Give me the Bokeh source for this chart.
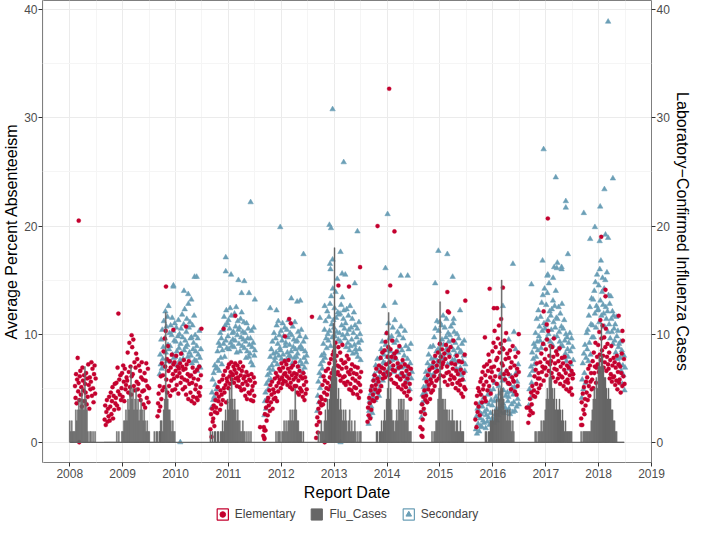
import numpy as np
from bokeh.plotting import figure
from bokeh.layouts import column
from bokeh.models import Range1d, LinearAxis, FixedTicker, Legend, LegendItem
from bokeh.embed import file_html
from bokeh.resources import INLINE

# ---------------- data ----------------
year_ticks = [2008, 2009, 2010, 2011, 2012, 2013, 2014, 2015, 2016, 2017, 2018, 2019]
y_ticks = [0, 10, 20, 30, 40]

# Elementary: school-season spans (decimal years) and daily-ish values
elem_spans = [(2008.10, 2008.49), (2008.66, 2009.50), (2009.66, 2010.48), (2010.66, 2011.50),
              (2011.66, 2012.48), (2012.66, 2013.51), (2013.63, 2014.45), (2014.63, 2015.48),
              (2015.67, 2016.49), (2016.67, 2017.52), (2017.67, 2018.49)]
e08 = [5.2, 4.1, 6.3, 3.6, 5.8, 7.8, 4.7, 5.5, 3.9, 6.1, 6.6, 4.4, 5.1, 3.3, 6.9, 5.7, 4.8, 6.2, 3.8, 5.4,
       4.6, 6.4, 3.5, 5.9, 4.2, 7.2, 5.3, 3.1, 6.0, 4.9, 5.6, 7.4, 4.3, 6.8, 5.0, 3.7, 6.3, 7.1, 4.5, 5.9]
e09 = [2.1, 3.4, 1.6, 2.8, 3.9, 1.9, 3.1, 2.4, 4.2, 2.0, 3.3, 4.6, 2.6, 3.8, 5.1, 2.2, 4.3, 3.0, 5.4, 3.6,
       4.1, 5.5, 3.4, 6.9, 4.7, 3.1, 5.8, 4.4, 6.2, 3.9, 5.0, 6.4, 4.2, 7.1, 5.6, 3.8, 6.8, 4.9, 5.3, 6.0,
       5.7, 8.3, 4.6, 6.5, 9.2, 5.1, 7.0, 4.4, 6.1, 8.8, 6.3, 9.5, 5.2, 7.4, 4.8, 6.9, 8.2, 5.6, 7.7, 4.9,
       5.4, 7.1, 4.3, 6.6, 3.9, 6.0, 7.4, 4.7, 5.8, 3.5, 4.8, 6.4, 3.2, 5.7, 7.3, 4.1, 5.2, 6.8, 3.7, 5.0]
e10 = [2.4, 3.6, 4.5, 2.9, 5.2, 3.3, 6.1, 4.0, 7.3, 4.8, 6.2, 8.4, 5.1, 9.6, 7.0, 10.3, 5.8, 7.7, 4.6, 8.9,
       6.6, 5.2, 7.5, 4.3, 6.9, 5.7, 8.1, 4.8, 6.3, 7.2, 5.9, 7.4, 4.9, 6.6, 8.0, 5.3, 6.1, 7.0, 4.5, 6.8,
       6.4, 7.3, 5.5, 8.2, 6.0, 7.0, 4.9, 6.7, 7.6, 5.8, 5.1, 6.8, 4.4, 7.2, 5.7, 6.3, 4.0, 7.5, 5.4, 6.1,
       4.6, 6.2, 3.8, 5.5, 6.9, 4.2, 5.9, 3.6, 6.5, 4.9, 5.3, 4.1, 6.7, 3.9, 5.8, 4.6, 7.0, 4.3, 5.1, 6.2]
e11 = [1.2, 2.6, 0.5, 3.1, 1.9, 2.2, 3.4, 1.5, 2.8, 3.9, 3.2, 4.5, 2.7, 5.1, 3.8, 4.2, 5.6, 3.0, 4.8, 3.5,
       4.4, 5.8, 3.9, 6.2, 5.0, 4.6, 6.6, 5.3, 3.7, 5.9, 5.6, 6.9, 5.0, 7.2, 6.1, 5.4, 6.5, 7.4, 5.8, 6.3,
       6.2, 7.0, 5.5, 6.7, 7.3, 5.9, 6.4, 5.2, 7.1, 6.0, 5.7, 6.8, 5.1, 7.4, 6.2, 4.8, 6.6, 5.4, 7.0, 5.9,
       4.9, 6.1, 4.3, 5.6, 6.5, 4.0, 5.3, 6.2, 4.6, 5.8, 4.5, 5.7, 3.9, 6.3, 4.8, 5.2, 3.8, 6.0, 4.3, 5.5]
e12 = [0.6, 1.4, 0.3, 2.6, 1.1, 3.2, 2.0, 3.8, 2.5, 4.1, 3.4, 4.8, 2.9, 5.3, 3.7, 4.4, 5.6, 3.1, 4.9, 4.0,
       4.6, 5.9, 4.1, 6.4, 5.2, 3.8, 6.1, 4.7, 5.5, 6.8, 5.8, 6.6, 5.0, 7.3, 6.0, 5.4, 6.9, 5.7, 6.3, 7.5,
       6.4, 5.6, 7.2, 6.1, 5.3, 6.8, 7.6, 5.9, 6.5, 5.1, 5.5, 6.9, 6.2, 4.9, 7.1, 5.8, 6.4, 5.2, 7.4, 6.0,
       5.2, 6.3, 4.6, 7.0, 5.7, 4.4, 6.6, 5.0, 6.1, 4.8, 4.7, 5.9, 4.2, 6.4, 5.3, 3.9, 6.0, 4.5, 5.6, 4.9]
e13 = [0.4, 1.6, 2.3, 0.9, 3.1, 1.9, 3.7, 2.7, 4.2, 3.4, 4.0, 5.3, 3.5, 6.1, 4.6, 5.7, 3.9, 6.6, 5.0, 4.4,
       5.5, 6.8, 4.9, 7.3, 6.0, 5.2, 7.7, 6.4, 5.8, 8.1, 6.7, 8.4, 5.9, 7.5, 9.2, 6.3, 8.0, 7.1, 6.5, 8.8,
       7.0, 6.2, 8.3, 5.7, 7.6, 6.8, 9.0, 6.0, 7.3, 5.5, 6.1, 7.4, 5.3, 6.9, 8.0, 5.6, 6.5, 7.7, 4.9, 6.3,
       5.4, 6.7, 4.8, 7.2, 5.9, 4.5, 6.4, 5.1, 7.0, 5.7, 5.0, 6.3, 4.4, 6.9, 5.5, 4.1, 6.0, 5.3, 4.7, 6.5]
e14 = [1.9, 3.2, 2.5, 4.1, 3.6, 2.2, 4.8, 3.0, 5.2, 3.9, 4.4, 5.7, 3.8, 6.2, 4.9, 5.3, 6.8, 4.1, 5.9, 4.6,
       5.6, 7.1, 4.8, 6.5, 7.8, 5.2, 6.9, 8.3, 5.9, 6.3, 6.8, 8.5, 6.0, 9.3, 7.2, 10.1, 6.5, 7.9, 8.8, 6.2,
       7.4, 6.3, 8.6, 5.8, 7.9, 9.4, 6.7, 7.1, 5.5, 8.2, 6.6, 7.8, 5.4, 8.4, 6.1, 7.3, 5.1, 6.9, 8.9, 5.9,
       5.8, 7.0, 4.9, 6.4, 7.6, 5.3, 6.1, 4.6, 7.2, 5.5, 5.1, 6.6, 4.3, 5.9, 7.0, 4.7, 6.3, 5.4, 4.0, 6.8]
e15 = [1.4, 2.8, 0.6, 3.5, 2.1, 4.2, 3.1, 4.8, 2.6, 3.9, 4.3, 5.6, 3.7, 6.2, 4.9, 5.3, 6.7, 4.0, 5.8, 4.6,
       5.5, 6.9, 4.8, 7.4, 6.1, 5.2, 8.0, 6.5, 5.7, 7.1, 6.6, 8.3, 5.9, 7.5, 9.1, 6.2, 7.9, 6.9, 8.6, 7.2,
       7.4, 6.1, 8.2, 5.6, 7.7, 9.0, 6.4, 7.0, 5.3, 8.5, 6.5, 7.9, 5.8, 8.8, 6.2, 7.3, 5.4, 6.8, 9.4, 6.0,
       5.9, 7.2, 5.0, 6.6, 8.0, 5.5, 6.3, 4.8, 7.5, 5.7, 5.3, 6.7, 4.5, 7.4, 5.8, 4.2, 6.4, 5.1, 8.1, 4.9]
e16 = [2.1, 3.6, 1.4, 4.3, 2.8, 5.0, 3.3, 4.7, 2.5, 5.6, 4.4, 5.9, 3.7, 6.5, 4.9, 5.3, 7.0, 4.1, 6.2, 3.8,
       5.6, 7.2, 4.8, 6.6, 8.1, 5.2, 7.5, 6.0, 4.5, 6.9, 6.5, 8.4, 5.7, 9.2, 7.0, 10.3, 6.1, 8.8, 7.6, 5.4,
       7.8, 9.6, 6.7, 10.8, 8.3, 6.0, 9.1, 11.4, 7.3, 8.7, 7.1, 8.6, 6.3, 9.4, 5.8, 7.7, 10.1, 6.6, 8.2, 5.5,
       6.3, 7.8, 5.4, 8.5, 6.9, 4.9, 7.4, 6.0, 8.9, 5.7, 5.6, 7.1, 4.7, 7.9, 6.2, 4.4, 6.8, 5.2, 8.3, 6.5]
e17 = [1.8, 3.2, 2.5, 4.0, 2.9, 4.6, 3.5, 5.2, 2.7, 4.3, 4.8, 6.1, 4.2, 6.7, 5.4, 7.3, 4.6, 5.9, 6.4, 5.0,
       5.9, 7.4, 5.3, 8.2, 6.5, 7.0, 9.1, 5.7, 6.8, 7.7, 6.9, 8.6, 6.2, 9.5, 7.4, 10.3, 6.6, 8.0, 7.2, 8.9,
       7.5, 6.4, 8.8, 6.0, 7.9, 9.6, 6.8, 7.3, 5.6, 8.4, 6.7, 8.1, 5.9, 7.5, 6.3, 8.7, 5.4, 7.0, 6.1, 7.8,
       6.0, 7.3, 5.2, 6.7, 7.9, 5.6, 6.4, 4.9, 7.1, 5.8, 5.5, 6.9, 4.7, 6.2, 7.4, 5.0, 6.6, 4.4, 5.9, 6.3]
e18 = [2.2, 3.7, 1.6, 4.5, 3.0, 5.1, 2.6, 4.0, 3.4, 5.6, 4.6, 6.0, 3.9, 6.8, 5.2, 4.3, 7.1, 5.6, 6.4, 4.9,
       5.8, 7.5, 5.0, 8.3, 6.4, 7.0, 9.2, 5.5, 6.9, 7.9, 7.2, 9.0, 6.5, 10.2, 8.1, 11.3, 7.6, 9.6, 8.5, 10.8,
       8.0, 6.9, 9.7, 7.4, 8.8, 10.5, 6.6, 7.9, 9.1, 7.2, 6.8, 8.3, 5.9, 7.6, 6.3, 8.9, 5.6, 7.1, 6.0, 7.8,
       6.1, 7.4, 5.3, 6.9, 5.7, 8.0, 4.9, 6.5, 7.2, 5.5, 5.8, 7.0, 4.6, 6.4, 8.2, 5.2, 9.4, 6.1, 7.7, 5.4]
elem_values = [e08, e09, e10, e11, e12, e13, e14, e15, e16, e17, e18]
elem_extra_x = [2008.17, 2008.18, 2008.92, 2009.17, 2009.82, 2009.96, 2010.20, 2010.49, 2010.91, 2011.13,
                2011.60, 2011.68, 2011.68, 2012.07, 2012.15, 2012.18, 2012.58, 2012.82, 2013.08, 2013.28,
                2013.49, 2013.82, 2014.04, 2014.06, 2014.14, 2014.67, 2014.67, 2015.14, 2015.15, 2015.17,
                2015.48, 2015.85, 2015.94, 2016.02, 2016.08, 2016.19, 2016.49, 2016.64, 2016.96, 2017.02,
                2017.04, 2017.67, 2018.05, 2018.13, 2018.13, 2018.38, 2018.45]
elem_extra_y = [20.5, 0.0, 11.9, 9.9, 14.4, 10.4, 10.7, 10.5, 10.5, 11.7,
                1.4, 1.1, 0.4, 9.8, 11.4, 11.0, 11.6, 0.0, 14.5, 14.4,
                16.2, 20.0, 32.7, 14.5, 19.5, 1.2, 0.5, 13.9, 12.1, 12.0,
                13.1, 9.7, 14.2, 12.4, 12.4, 14.3, 10.0, 3.2, 12.1, 10.9,
                20.7, 1.6, 19.0, 14.1, 13.5, 11.7, 10.3]

# Secondary
sec_spans = [(2009.70, 2010.48), (2010.68, 2011.50), (2011.68, 2012.48), (2012.68, 2013.51),
             (2013.65, 2014.47), (2014.65, 2015.48), (2015.68, 2016.49), (2016.68, 2017.52),
             (2017.68, 2018.50)]
s10 = [6.3, 8.1, 7.2, 9.5, 6.8, 10.4, 7.7, 8.8, 11.2, 7.0, 9.6, 12.1, 8.3, 10.7, 7.5, 11.6, 9.0, 12.6, 8.6, 10.1,
       8.9, 10.8, 7.4, 9.9, 11.5, 8.1, 10.3, 7.8, 9.4, 11.0, 7.9, 9.3, 10.6, 8.4, 7.1, 9.8, 11.3, 8.7, 10.0, 7.6,
       9.1, 10.5, 8.2, 11.8, 9.7, 7.7, 10.9, 8.5, 12.3, 9.4, 8.8, 10.2, 11.4, 9.0, 7.9, 12.8, 10.6, 8.3, 11.1, 9.6,
       8.0, 9.7, 7.3, 10.8, 8.6, 9.2, 11.7, 7.6, 9.9, 8.4, 7.5, 8.9, 6.6, 9.6, 8.1, 7.0, 10.3, 7.8, 6.9, 8.6]
s11 = [3.2, 4.6, 5.8, 3.9, 6.4, 4.2, 7.1, 5.3, 6.8, 4.9, 6.9, 8.4, 7.5, 9.2, 6.6, 8.9, 10.1, 7.8, 9.6, 7.2,
       8.5, 10.4, 9.1, 11.6, 7.9, 10.8, 9.4, 12.2, 8.7, 11.0, 9.8, 11.3, 8.6, 10.5, 12.4, 9.2, 11.7, 8.9, 10.1, 9.5,
       10.2, 8.8, 11.9, 9.4, 10.7, 12.5, 8.3, 9.9, 11.2, 10.4, 9.1, 10.6, 8.4, 11.4, 9.7, 12.0, 8.9, 10.2, 9.5, 11.1,
       8.7, 10.1, 9.3, 7.8, 11.0, 8.4, 9.6, 10.5, 7.9, 9.0, 8.2, 9.6, 7.4, 10.3, 8.8, 7.1, 9.2, 10.6, 8.0, 8.5]
s12 = [2.5, 3.8, 4.6, 3.1, 5.4, 4.0, 6.2, 4.9, 5.7, 6.8, 6.4, 7.9, 5.8, 8.6, 7.1, 9.3, 6.7, 8.2, 10.1, 7.5,
       7.8, 9.6, 8.3, 10.8, 7.2, 9.1, 11.2, 8.0, 9.9, 8.7, 8.5, 10.3, 7.7, 9.4, 11.0, 8.1, 9.8, 7.5, 10.6, 8.9,
       9.2, 7.6, 10.4, 8.3, 9.7, 11.3, 8.0, 9.0, 10.1, 7.9, 8.4, 9.9, 7.3, 10.7, 8.8, 9.5, 7.8, 11.1, 8.6, 9.3,
       7.9, 9.4, 8.2, 10.2, 7.0, 8.7, 9.8, 7.5, 8.9, 10.4, 7.2, 8.6, 6.5, 9.3, 7.8, 6.9, 8.4, 9.7, 7.4, 8.0]
s13 = [2.9, 4.3, 5.6, 3.7, 6.4, 5.0, 7.2, 6.1, 8.0, 6.8, 7.5, 9.1, 8.2, 10.4, 7.8, 11.2, 9.6, 8.7, 12.1, 10.0,
       9.4, 11.6, 10.3, 12.8, 8.9, 13.5, 10.9, 9.7, 14.2, 11.3, 10.6, 12.4, 9.8, 13.9, 11.5, 10.2, 15.1, 12.0, 9.5, 11.8,
       10.1, 11.9, 9.3, 12.7, 10.8, 13.4, 9.9, 11.4, 12.2, 10.5, 9.6, 11.0, 8.8, 12.3, 10.0, 9.2, 11.7, 10.4, 8.5, 12.6,
       8.9, 10.6, 9.5, 11.4, 8.2, 10.1, 12.0, 9.0, 10.8, 8.6, 8.3, 9.7, 10.5, 7.9, 9.2, 11.1, 8.6, 10.0, 7.6, 9.4]
s14 = [1.7, 2.9, 3.8, 2.4, 4.5, 3.3, 5.1, 2.7, 4.2, 5.8, 4.6, 6.3, 3.9, 7.1, 5.4, 4.8, 7.7, 5.9, 6.6, 4.3,
       6.0, 7.8, 5.2, 8.6, 6.9, 9.3, 5.7, 7.4, 8.1, 6.4, 7.3, 9.0, 6.2, 10.1, 7.9, 8.5, 11.0, 6.8, 9.6, 7.5,
       8.4, 6.9, 9.8, 7.6, 10.6, 8.1, 6.5, 9.2, 11.3, 7.8, 7.7, 9.4, 6.8, 10.2, 8.3, 7.2, 9.9, 8.8, 6.3, 10.7,
       6.9, 8.5, 7.4, 9.6, 6.1, 8.0, 10.3, 7.0, 8.9, 5.8, 6.2, 7.7, 5.5, 8.6, 6.8, 4.9, 7.3, 9.1, 5.9, 6.5]
s15 = [2.3, 3.6, 4.4, 2.9, 5.1, 3.8, 5.9, 4.6, 6.5, 5.2, 5.8, 7.3, 4.9, 8.1, 6.4, 7.0, 8.8, 5.5, 7.7, 6.1,
       7.2, 8.9, 6.3, 9.7, 7.8, 10.5, 6.9, 8.4, 11.2, 7.5, 8.6, 10.3, 7.4, 11.1, 9.2, 8.0, 10.8, 9.5, 7.7, 11.7,
       9.0, 7.8, 10.6, 8.3, 9.7, 11.4, 8.7, 7.2, 10.1, 9.3, 8.2, 9.9, 7.3, 10.7, 8.8, 9.4, 7.6, 11.0, 8.5, 10.2,
       7.6, 9.2, 8.1, 6.8, 10.0, 7.4, 8.7, 9.6, 6.5, 8.3, 6.9, 8.4, 6.2, 9.1, 7.5, 5.8, 8.0, 9.4, 6.6, 7.2]
s16 = [1.2, 2.4, 0.8, 3.1, 1.7, 2.9, 1.0, 3.6, 2.2, 1.5, 2.6, 1.4, 3.3, 2.0, 4.1, 1.8, 2.8, 3.7, 1.3, 2.5,
       3.0, 1.9, 4.4, 2.3, 3.5, 1.6, 4.8, 2.7, 3.9, 2.1, 3.4, 2.2, 4.9, 1.8, 3.8, 5.5, 2.6, 4.2, 3.1, 2.0,
       3.9, 2.5, 5.2, 3.0, 4.5, 6.3, 2.8, 4.0, 3.3, 5.7, 3.6, 4.8, 2.7, 5.9, 3.2, 4.3, 6.6, 2.9, 4.6, 3.8,
       4.2, 3.1, 5.4, 2.6, 4.7, 6.1, 3.5, 5.0, 2.8, 4.4, 3.7, 5.1, 2.9, 4.5, 6.4, 3.3, 5.6, 4.0, 7.2, 3.5]
s17 = [3.4, 4.9, 6.2, 4.1, 7.0, 5.5, 8.3, 6.6, 7.7, 9.1, 7.2, 8.8, 10.1, 7.9, 11.4, 9.3, 8.5, 12.2, 9.8, 10.7,
       9.4, 11.6, 8.7, 12.9, 10.3, 13.6, 9.1, 11.0, 14.2, 10.5, 10.8, 12.7, 9.6, 13.8, 11.3, 10.0, 14.7, 12.1, 9.3, 11.7,
       10.4, 12.3, 9.0, 13.1, 11.1, 9.7, 12.6, 10.6, 14.0, 11.5, 9.8, 11.4, 8.6, 12.5, 10.2, 9.3, 11.9, 8.9, 10.7, 12.8,
       8.9, 10.5, 7.8, 11.3, 9.4, 8.2, 10.0, 7.5, 9.7, 8.6, 7.9, 9.2, 6.8, 10.1, 8.4, 7.2, 9.6, 6.4, 8.8, 7.6]
s18 = [4.1, 5.8, 7.3, 4.9, 8.2, 6.4, 9.0, 5.5, 7.8, 10.1, 8.6, 10.4, 7.5, 11.7, 9.2, 12.5, 8.1, 10.9, 13.3, 9.7,
       10.8, 13.2, 9.7, 14.0, 11.9, 14.8, 10.6, 12.6, 15.5, 12.2, 12.3, 14.5, 11.1, 16.0, 13.1, 16.8, 11.7, 13.9, 15.2, 12.7,
       11.9, 14.2, 10.7, 15.0, 12.5, 11.4, 15.7, 12.1, 10.2, 13.6, 10.9, 12.8, 9.6, 13.5, 11.4, 10.2, 12.1, 9.1, 11.7, 10.5,
       9.4, 10.9, 8.3, 11.6, 9.8, 7.7, 10.3, 8.8, 9.1, 7.2, 7.8, 9.3, 6.6, 8.5, 5.4, 7.1, 6.2, 8.0, 4.8, 6.9]
sec_values = [s10, s11, s12, s13, s14, s15, s16, s17, s18]
sec_extra_x = [2009.96, 2009.96, 2010.09, 2010.16, 2010.24, 2010.30, 2010.36, 2010.40,
               2010.95, 2010.95, 2011.05, 2011.19, 2011.25, 2011.30, 2011.39, 2011.42, 2011.50,
               2011.79, 2011.91, 2011.98, 2012.19, 2012.30, 2012.36, 2012.42,
               2012.73, 2012.82, 2012.91, 2012.92, 2012.93, 2012.94, 2012.97, 2012.97, 2013.12, 2013.12,
               2013.15, 2013.18, 2013.21, 2013.39, 2013.44,
               2013.94, 2013.97, 2014.01, 2014.15, 2014.26, 2014.39,
               2014.91, 2014.97, 2015.14, 2015.24, 2015.26, 2015.38,
               2016.19, 2016.30, 2016.38, 2016.40, 2016.43,
               2016.73, 2016.94, 2016.96, 2017.03, 2017.04, 2017.14, 2017.16, 2017.19, 2017.21, 2017.22,
               2017.30, 2017.30, 2017.38, 2017.38, 2017.42,
               2017.72, 2017.84, 2017.93, 2018.02, 2018.03, 2018.11, 2018.13, 2018.18, 2018.18, 2018.27]
sec_extra_y = [14.4, 14.5, 0.0, 14.0, 13.7, 13.2, 15.3, 15.3,
               17.1, 15.8, 15.5, 15.0, 13.8, 14.9, 13.8, 22.2, 13.2,
               12.4, 12.2, 19.9, 13.3, 13.0, 13.1, 17.4,
               11.5, 12.6, 20.1, 16.5, 16.0, 19.8, 30.8, 16.9, 17.6, 0.0,
               15.6, 25.9, 15.5, 14.7, 19.5,
               12.6, 16.1, 21.1, 12.9, 15.4, 15.4,
               14.7, 17.7, 17.4, 15.3, 11.4, 12.2,
               12.6, 9.5, 16.5, 10.2, 8.6,
               14.6, 16.8, 27.1, 15.4, 15.5, 15.2, 16.2, 24.5, 16.1, 16.6,
               16.2, 16.0, 22.3, 21.7, 17.4,
               21.2, 18.8, 19.9, 18.6, 21.8, 23.4, 19.2, 38.9, 18.9, 24.4]

# Laboratory-confirmed influenza cases, weekly counts from each start date
flu_starts = [2008.00, 2008.66, 2009.70, 2010.66, 2011.90, 2012.70, 2013.80, 2014.85, 2015.86, 2016.80, 2017.67]
f08 = [2, 1, 2, 1, 1, 1, 3, 2, 3, 4, 3, 4, 5, 4, 3, 7, 4, 3, 1, 0, 1, 1, 0, 1, 0, 1]
f09 = [0, 0, 0, 0, 0, 0, 0, 0, 0, 0, 0, 0, 1, 0, 1, 0, 0, 1, 1, 2, 2, 3, 2, 4, 3, 5, 7, 4, 5, 3, 4, 5, 3, 4,
       2, 3, 4, 3, 2, 3, 2, 1, 2, 1, 1, 0, 0, 0, 0, 1, 0, 1, 1, 0, 1, 1]
f10 = [1, 2, 2, 1, 3, 4, 12, 5, 4, 3, 3, 2, 1, 2, 1, 1]
f11 = [1, 0, 1, 0, 1, 1, 0, 1, 1, 0, 1, 1, 2, 1, 2, 3, 2, 4, 3, 5, 4, 6, 4, 3, 4, 3, 2, 3, 2, 2, 1,
       1, 2, 1, 1, 0, 1, 0, 1, 0, 1]
f12 = [1, 0, 1, 1, 1, 0, 1, 1, 2, 1, 2, 1, 2, 2, 3, 2, 3, 2, 3, 5, 3, 2, 2, 1, 1, 1, 0, 1]
f13 = [1, 0, 1, 2, 1, 1, 2, 3, 2, 4, 3, 4, 5, 6, 7, 11, 18, 9, 6, 4, 5, 3, 4, 3, 2, 3,
       2, 3, 2, 1, 2, 3, 1, 2, 1, 1, 2, 1, 0, 1, 0, 1, 1]
f14 = [1, 1, 0, 1, 1, 2, 1, 2, 3, 2, 4, 5, 12, 4, 5, 3, 2, 2, 1, 2, 3, 2, 4, 3, 4,
       4, 3, 4, 2, 3, 2, 3, 1, 1, 1]
f15 = [1, 0, 1, 1, 2, 2, 4, 5, 13, 5, 4, 4, 3, 4, 3, 3, 2, 3, 2, 2, 3, 2, 2, 1, 2, 2, 1, 1, 2, 1, 1, 1]
f16 = [1, 1, 0, 1, 1, 2, 2, 3, 2, 3, 3, 4, 3, 5, 4, 5, 15, 5, 4, 3, 3, 2, 3, 2, 3, 2, 1, 2, 1]
f17 = [1, 1, 0, 1, 1, 1, 2, 1, 2, 2, 3, 4, 5, 4, 6, 9, 6, 5, 4, 5, 3, 4, 3, 3, 4, 3, 2, 3,
       2, 1, 2, 1, 1, 1, 1, 1, 1]
f18 = [1, 0, 1, 1, 1, 1, 1, 1, 1, 1, 2, 3, 4, 5, 4, 6, 5, 7, 8, 7, 11, 8, 7, 6, 6, 5, 4, 5, 4, 4, 3,
       3, 2, 2, 1, 1, 0, 0, 0, 0, 0, 0, 0]
flu_values = [f08, f09, f10, f11, f12, f13, f14, f15, f16, f17, f18]

legend_labels = ["Elementary", "Flu_Cases", "Secondary"]

# ---------------- build ----------------
WEEK = 7.0 / 365.25

ex, ey = [], []
for (a, b), vals in zip(elem_spans, elem_values):
    ex.extend(np.linspace(a, b, len(vals)).tolist())
    ey.extend(vals)
ex += elem_extra_x
ey += elem_extra_y

sx, sy = [], []
for (a, b), vals in zip(sec_spans, sec_values):
    sx.extend(np.linspace(a, b, len(vals)).tolist())
    sy.extend(vals)
sx += sec_extra_x
sy += sec_extra_y

fx, fy = [], []
for st, vals in zip(flu_starts, flu_values):
    fx.extend([st + i * WEEK for i in range(len(vals))])
    fy.extend(vals)

RED = "#C4012E"
BLUE = "#6B9FB6"
GRAY = "#666666"
FONT = "Liberation Sans"

fig = figure(width=693, height=503, output_backend="svg", toolbar_location=None,
             x_range=Range1d(2007.485, 2019.0), y_range=Range1d(-1.87, 40.86),
             min_border_top=0, min_border_left=0, min_border_right=0, min_border_bottom=0)
fig.background_fill_color = "white"
fig.border_fill_color = "white"
fig.outline_line_color = "#7F7F7F"
fig.outline_line_width = 1

fig.add_layout(LinearAxis(), "right")

xt = FixedTicker(ticks=year_ticks, minor_ticks=[t + 0.5 for t in year_ticks[:-1]] + [2007.5])
yt = FixedTicker(ticks=y_ticks, minor_ticks=[5, 15, 25, 35])
fig.xaxis.ticker = xt
fig.yaxis.ticker = yt
fig.xgrid.ticker = xt
fig.ygrid.ticker = yt
fig.xgrid.grid_line_color = "#EBEBEB"
fig.ygrid.grid_line_color = "#EBEBEB"
fig.xgrid.minor_grid_line_color = "#F5F5F5"
fig.ygrid.minor_grid_line_color = "#F5F5F5"

for ax in list(fig.xaxis) + list(fig.yaxis):
    ax.axis_line_color = None
    ax.major_tick_line_color = "#333333"
    ax.major_tick_out = 4
    ax.major_tick_in = 0
    ax.minor_tick_line_color = None
    ax.major_label_text_font = FONT
    ax.major_label_text_font_size = "12px"
    ax.major_label_text_color = "#4D4D4D"
    ax.major_label_standoff = 1
    ax.axis_label_text_font = FONT
    ax.axis_label_text_font_size = "16px"
    ax.axis_label_text_font_style = "normal"
    ax.axis_label_text_color = "black"
    ax.axis_label_standoff = 1

fig.xaxis.major_label_standoff = 2
fig.xaxis.axis_label_standoff = 3
fig.xaxis.axis_label = "Report Date"
fig.yaxis[0].axis_label = "Average Percent Absenteeism"
fig.yaxis[1].axis_label = "Laboratory\u2212Confirmed Influenza Cases"

fig.scatter(x=sx, y=sy, marker="triangle", size=5.5, fill_color=BLUE, line_color=BLUE, line_width=0.5)
fig.scatter(x=ex, y=ey, marker="circle", size=4.2, fill_color=RED, line_color=RED, line_width=0.3)
fig.segment(x0=[min(fx)], y0=[0], x1=[max(fx) + WEEK / 2], y1=[0], line_color=GRAY, line_width=1.2)
fig.vbar(x=fx, top=fy, bottom=0, width=WEEK, fill_color=GRAY, line_color=GRAY, line_width=0.4)

# ---------------- legend strip ----------------
leg = figure(width=693, height=21, output_backend="svg", toolbar_location=None,
             x_range=Range1d(0, 1), y_range=Range1d(0, 1),
             min_border=0, x_axis_type=None, y_axis_type=None)
leg.outline_line_color = None
leg.grid.visible = False
far = [-10]
k_e = leg.quad(left=far, right=far, bottom=far, top=far, fill_color="white", line_color=RED, line_width=1.2)
m_e = leg.scatter(x=far, y=far, marker="circle", size=3.5, fill_color=RED, line_color=RED)
k_f = leg.quad(left=far, right=far, bottom=far, top=far, fill_color=GRAY, line_color=GRAY)
k_s = leg.quad(left=far, right=far, bottom=far, top=far, fill_color="white", line_color=BLUE, line_width=1.2)
m_s = leg.scatter(x=far, y=far, marker="triangle", size=4.5, fill_color=BLUE, line_color=BLUE)
legend = Legend(items=[LegendItem(label=legend_labels[0], renderers=[k_e, m_e]),
                       LegendItem(label=legend_labels[1], renderers=[k_f]),
                       LegendItem(label=legend_labels[2], renderers=[k_s, m_s])],
                orientation="horizontal", location="center")
legend.border_line_color = None
legend.background_fill_alpha = 0
legend.label_text_font = FONT
legend.label_text_font_size = "12px"
legend.glyph_width = 14
legend.glyph_height = 14
legend.label_standoff = 6
legend.spacing = 14
legend.padding = 1
legend.margin = 0
leg.add_layout(legend)

p = column(fig, leg, spacing=0)
open("out.html", "w").write(file_html(p, INLINE))
